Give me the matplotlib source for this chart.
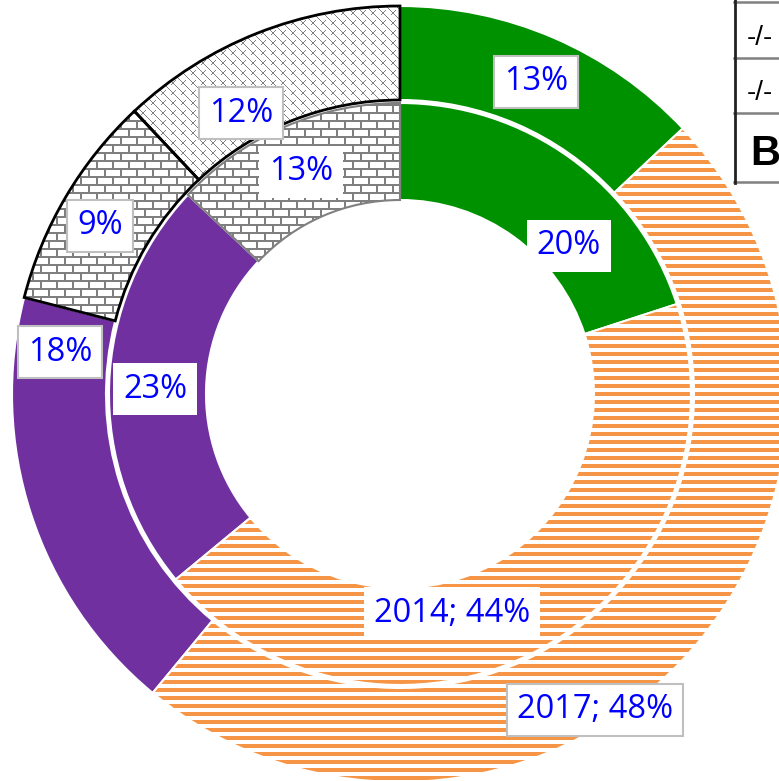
import numpy as np
import matplotlib.pyplot as plt

plt.rcParams['font.family'] = ['Open Sans', 'DejaVu Sans']

# data
inner_vals = [20, 44, 23, 13]          # 2014
outer_vals = [13, 48, 18, 9, 12]       # 2017
inner_labels = ['20%', '2014; 44%', '23%', '13%']
outer_labels = ['13%', '2017; 48%', '18%', '9%', '12%']
table_cells = ['-/-', '-/-', 'B']

# fills per slice
inner_fill = ['green', 'stripes', 'purple', 'brick']
outer_fill = ['green', 'stripes', 'purple', 'brick', 'diamond']
solid = {'green': '#009100', 'purple': '#7030A0'}

# label spots in picture pixels (moved by hand in the original)
outer_lab_px = [(536, 82), (595, 710), (60, 352), (100, 226), (241, 113)]
inner_lab_px = [(569, 246), (452, 613), (155, 389), (301, 172)]

W, H = 779, 781
CX, CY = 400, 394


def px(x, y):
    return x - CX, CY - y


# textures for patterned slices
rr, cc = np.mgrid[0:H, 0:W]
masks = {
    'stripes': (rr % 8) < 4,
    'brick': ((rr % 8) < 2) | (((cc + 8 * ((rr // 8) % 2)) % 16) < 2),
    'diamond': ((rr - cc) % 10 == 0) | (((rr + cc) % 10 == 5) & ((rr % 10) < 5)),
}
tex_col = {'stripes': (0.969, 0.588, 0.275), 'brick': (0.5, 0.5, 0.5),
           'diamond': (0.5, 0.5, 0.5)}


def texture(name):
    img = np.ones((H, W, 3))
    img[masks[name]] = tex_col[name]
    return img


fig = plt.figure(figsize=(W / 100, H / 100), dpi=100)
ax = fig.add_axes([0, 0, 1, 1])
extent = (-CX, W - CX, CY - H, CY)


def ring(vals, fills, radius, width, edge_pat, edge_lw):
    wedges, _ = ax.pie(vals, radius=radius, startangle=90, counterclock=False,
                       wedgeprops=dict(width=width, edgecolor='white', linewidth=1.5))
    for w, f in zip(wedges, fills):
        if f in solid:
            w.set_facecolor(solid[f])
        else:
            w.set_facecolor('none')
            w.set_zorder(3)
            if f != 'stripes':
                w.set_edgecolor(edge_pat)
                w.set_linewidth(edge_lw)
            im = ax.imshow(texture(f), extent=extent, origin='upper',
                           interpolation='nearest', zorder=2)
            im.set_clip_path(w)
    return wedges


ring(outer_vals, outer_fill, 388, 94, 'black', 2)
ring(inner_vals, inner_fill, 291, 97, '#808080', 1.5)

for lab, (x, y) in zip(outer_labels, outer_lab_px):
    ax.text(*px(x, y), lab, ha='center', va='center', fontsize=23.5, color='#0000FF', zorder=5,
            bbox=dict(boxstyle='square,pad=0.3', fc='white', ec='#BFBFBF', lw=1.5))
for lab, (x, y) in zip(inner_labels, inner_lab_px):
    ax.text(*px(x, y), lab, ha='center', va='center', fontsize=23.5, color='#0000FF', zorder=5,
            bbox=dict(boxstyle='square,pad=0.3', fc='white', ec='none'))

# partial table in the top right corner
row_y = [2, 58, 113, 182]
for y in row_y:
    ax.plot(*zip(px(734, y), px(W, y)), color='#808080', lw=1.8, zorder=6)
ax.plot(*zip(px(734.5, 0), px(734.5, 183)), color='#222222', lw=2, zorder=7)
for i, t in enumerate(table_cells):
    yc = (row_y[i] + row_y[i + 1]) / 2
    if t == 'B':
        ax.text(*px(750, 165), t, ha='left', va='baseline', fontsize=30,
                fontweight='bold', family='Liberation Sans', color='black', zorder=6)
    else:
        ax.text(*px(747, yc + 15), t, ha='left', va='baseline', fontsize=20,
                family='Liberation Sans', color='black', zorder=6)

ax.set_xlim(extent[0], extent[1])
ax.set_ylim(extent[2], extent[3])
ax.set_aspect('auto')
ax.axis('off')

fig.savefig('out.png', dpi=100)
